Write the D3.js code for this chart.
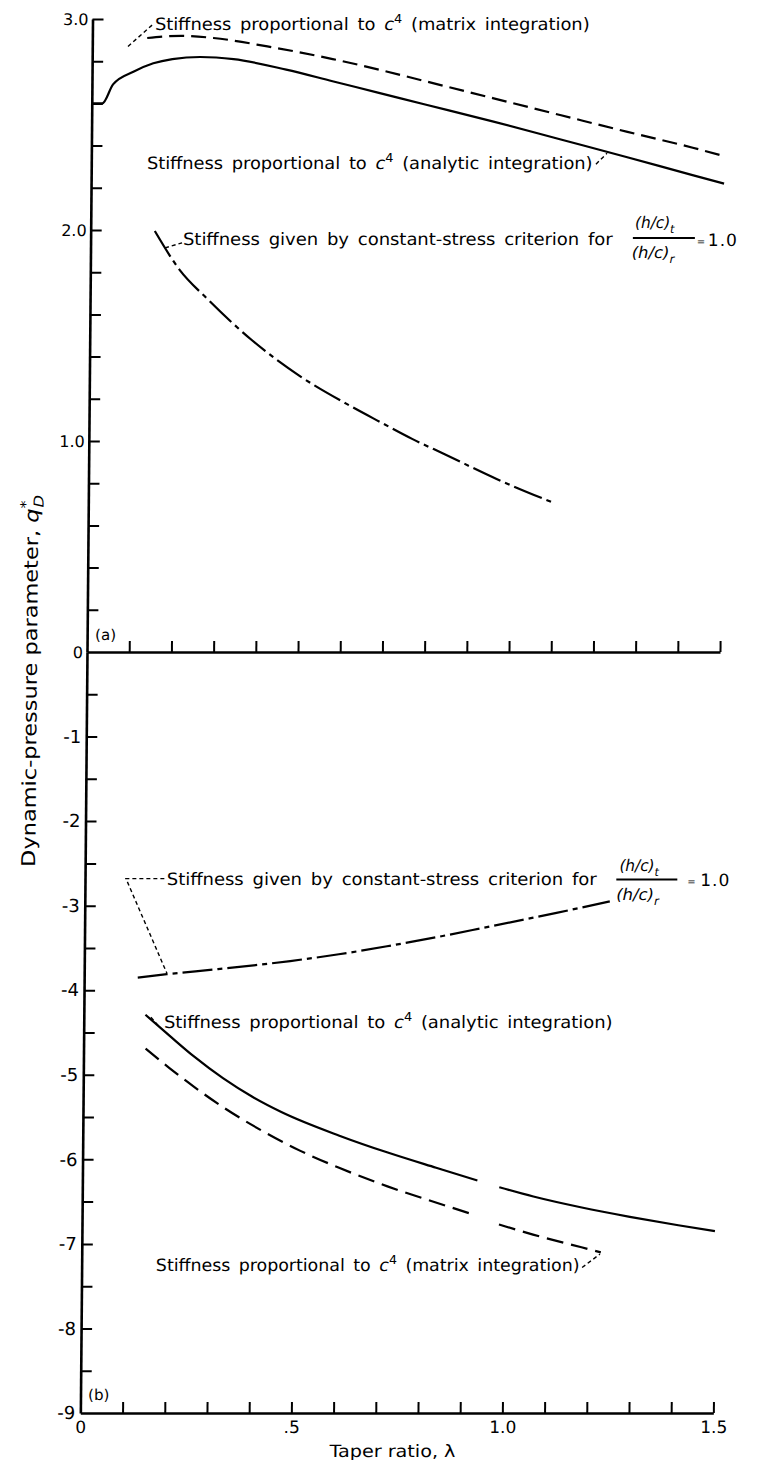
<!DOCTYPE html>
<html><head><meta charset="utf-8">
<script src="https://cdn.jsdelivr.net/npm/d3@7"></script>
<style>
body{margin:0;background:#fff;}
svg{display:block;background:#fff;}
text{fill:#000;font-family:"DejaVu Sans",sans-serif;}
</style></head>
<body>
<svg id="c" width="758" height="1460"></svg>
<script>
// ---------------- DATA ----------------
// (a) upper panel
const topAnalyticLam = [0, 0.025, 0.05, 0.098, 0.145, 0.19, 0.256, 0.335, 0.46, 0.57, 0.68, 0.79, 0.95, 1.11, 1.27, 1.425, 1.50];
const topAnalyticVal = [2.60, 2.60, 2.69, 2.75, 2.79, 2.81, 2.82, 2.81, 2.76, 2.705, 2.65, 2.595, 2.515, 2.43, 2.345, 2.26, 2.22];
const topMatrixLam = [0.13, 0.21, 0.287, 0.415, 0.57, 0.68, 0.79, 0.95, 1.11, 1.27, 1.425, 1.50];
const topMatrixVal = [2.91, 2.92, 2.91, 2.87, 2.81, 2.76, 2.705, 2.625, 2.545, 2.465, 2.39, 2.35];
const topStressLam = [0.152, 0.212, 0.277, 0.386, 0.497, 0.62, 0.69, 0.766, 0.846, 0.967, 1.10];
const topStressVal = [1.995, 1.81, 1.675, 1.475, 1.31, 1.165, 1.09, 1.01, 0.935, 0.82, 0.709];
// (b) lower panel (NaN marks a break in the drawn line)
const botAnalyticLam = [0.146, 0.204, 0.261, 0.331, 0.401, 0.470, 0.608, 0.723, 0.838, 0.936, 0.96, 0.988, 1.069, 1.184, 1.298, 1.413, 1.50];
const botAnalyticVal = [-4.29, -4.54, -4.78, -5.04, -5.26, -5.44, -5.72, -5.92, -6.10, -6.25, NaN, -6.33, -6.44, -6.57, -6.68, -6.78, -6.85];
const botMatrixLam = [0.147, 0.204, 0.262, 0.331, 0.424, 0.516, 0.608, 0.723, 0.838, 0.919, 0.95, 0.988, 1.069, 1.184, 1.23];
const botMatrixVal = [-4.69, -4.92, -5.14, -5.38, -5.66, -5.90, -6.10, -6.32, -6.51, -6.64, NaN, -6.77, -6.89, -7.04, -7.10];
const botStressLam = [0.127, 0.196, 0.317, 0.488, 0.603, 0.717, 0.832, 0.947, 1.06, 1.118, 1.244];
const botStressVal = [-3.85, -3.81, -3.75, -3.655, -3.575, -3.48, -3.375, -3.26, -3.145, -3.085, -2.95];

// tick labels
const xLabelVals = [0, 0.5, 1.0, 1.5];
const xLabels = ["0", ".5", "1.0", "1.5"];
const topYLabelVals = [0, 1, 2, 3];
const topYLabels = ["0", "1.0", "2.0", "3.0"];
const botYLabelVals = [-1, -2, -3, -4, -5, -6, -7, -8, -9];
const botYLabels = ["-1", "-2", "-3", "-4", "-5", "-6", "-7", "-8", "-9"];

// annotation texts and anchors (data units: taper ratio, parameter value)
const labelTexts = [
  "Stiffness proportional to |c|4| (matrix integration)",
  "Stiffness proportional to |c|4| (analytic integration)",
  "Stiffness given by constant-stress criterion for",
  "Stiffness given by constant-stress criterion for",
  "Stiffness proportional to |c|4| (analytic integration)",
  "Stiffness proportional to |c|4| (matrix integration)"
];
const labelPanel = ["a", "a", "a", "b", "b", "b"];
const labelLam = [0.148, 0.132, 0.219, 0.194, 0.190, 0.176];
const labelVal = [2.946, 2.288, 1.929, -2.75, -4.45, -7.32];
const leaderPanel = ["a", "a", "a", "b", "b", "b"];
const leaderLam = [[0.0846, 0.1457], [1.196, 1.222], [0.1765, 0.2168], [0.188, 0.097, 0.196], [0.159, 0.180], [1.186, 1.228]];
const leaderVal = [[2.870, 2.979], [2.312, 2.364], [1.915, 1.939], [-2.68, -2.68, -3.80], [-4.32, -4.44], [-7.28, -7.12]];
const fracPanel = ["a", "b"];
const fracLam = [1.285, 1.259];
const fracVal = [1.962, -2.69];
const panelTags = ["(a)", "(b)"];
const panelTagLam = [0.019, 0.018];
const panelTagVal = [0.057, -8.85];

// ---------------- LAYOUT ----------------
const svg = d3.select("#c");
const Y0 = 652;
const root = svg.append("g")
  .attr("transform", `translate(0,${Y0}) skewX(-0.5) translate(0,${-Y0})`);

const x = d3.scaleLinear().domain([0, 1.5]).range([87, 720]);
const yTop = d3.scaleLinear().domain([0, 3]).range([652, 19]);
const yBot = d3.scaleLinear().domain([-9, 0]).range([1413, 652]);
const yOf = p => p === "a" ? yTop : yBot;

// ---------------- AXES ----------------
function styleAxis(g, dw, tw) {
  g.select(".domain").attr("stroke", "#000").attr("stroke-width", dw);
  g.selectAll(".tick line").attr("stroke", "#000").attr("stroke-width", tw);
}
root.append("g").attr("transform", `translate(${x(0)},0)`)
  .call(d3.axisRight(yTop).tickValues(d3.range(1, 16).map(i => i * 0.2)).tickSize(11).tickSizeOuter(0).tickFormat(""))
  .call(g => styleAxis(g, 2.6, 2));
root.append("g").attr("transform", `translate(${x(0)},0)`)
  .call(d3.axisRight(yBot).tickValues(d3.range(1, 18).map(i => -i * 0.5)).tickSize(11).tickSizeOuter(0).tickFormat(""))
  .call(g => styleAxis(g, 2.6, 2));
[yTop(0), yBot(-9)].forEach(yy => {
  root.append("g").attr("transform", `translate(0,${yy})`)
    .call(d3.axisTop(x).tickValues(d3.range(1, 16).map(i => i / 10)).tickSize(11).tickSizeOuter(0).tickFormat(""))
    .call(g => styleAxis(g, 2.6, 2));
});
function labelAxis(g, fs) {
  g.select(".domain").remove();
  g.selectAll(".tick line").remove();
  g.selectAll("text").attr("font-size", fs).attr("font-family", "DejaVu Sans, sans-serif").attr("fill", "#000");
}
root.append("g").attr("transform", `translate(${x(0)},0)`)
  .call(d3.axisLeft(yTop).tickValues(topYLabelVals).tickFormat((d, i) => topYLabels[i]).tickSize(0).tickPadding(4))
  .call(g => labelAxis(g, 16));
root.append("g").attr("transform", `translate(${x(0)},0)`)
  .call(d3.axisLeft(yBot).tickValues(botYLabelVals).tickFormat((d, i) => botYLabels[i]).tickSize(0).tickPadding(5))
  .call(g => labelAxis(g, 18));
root.append("g").attr("transform", `translate(0,${yBot(-9)})`)
  .call(d3.axisBottom(x).tickValues(xLabelVals).tickFormat((d, i) => xLabels[i]).tickSize(0).tickPadding(8))
  .call(g => labelAxis(g, 17));

// ---------------- CURVES ----------------
function curve(lam, val, ys, dash, sw) {
  const pts = lam.map((l, i) => [l, val[i]]);
  root.append("path").datum(pts)
    .attr("fill", "none").attr("stroke", "#000").attr("stroke-width", sw)
    .attr("stroke-dasharray", dash)
    .attr("d", d3.line().defined(d => !isNaN(d[1])).x(d => x(d[0])).y(d => ys(d[1])).curve(d3.curveMonotoneX));
}
curve(topAnalyticLam, topAnalyticVal, yTop, null, 2.2);
curve(topMatrixLam, topMatrixVal, yTop, "15,7", 2.2);
curve(topStressLam, topStressVal, yTop, "30,5,5,5", 2.2);
curve(botAnalyticLam, botAnalyticVal, yBot, null, 2.2);
curve(botMatrixLam, botMatrixVal, yBot, "17,8", 2.2);
curve(botStressLam, botStressVal, yBot, "30,5,5,5", 2.2);

leaderLam.forEach((ls, k) => {
  const ys = yOf(leaderPanel[k]);
  root.append("path").datum(ls.map((l, i) => [l, leaderVal[k][i]]))
    .attr("fill", "none").attr("stroke", "#000").attr("stroke-width", 1.4)
    .attr("stroke-dasharray", "4,3")
    .attr("d", d3.line().x(d => x(d[0])).y(d => ys(d[1])));
});

// ---------------- TEXT ----------------
function rich(g, parts, fs) {
  const t = g.append("text").attr("font-size", fs);
  let shift = 0;
  parts.forEach(p => {
    const s = t.append("tspan").text(p.t);
    let target = 0;
    if (p.sup) { target = -0.42 * fs; s.attr("font-size", fs * 0.72); }
    if (p.sub) { target = 0.28 * fs; s.attr("font-size", fs * 0.72); }
    if (target - shift !== 0) s.attr("dy", target - shift);
    shift = target;
    if (p.it) s.attr("font-style", "italic");
    if (p.dx) s.attr("dx", p.dx);
  });
  return t;
}
function fitW(t, w) {
  const bw = t.node().getBBox().width;
  if (bw > 0) t.attr("transform", `scale(${w / bw},1)`);
}
function parseParts(str) {
  const seg = str.split("|");
  return [{ t: seg[0] }, { t: seg[1], it: true }, { t: seg[2], sup: true }, { t: " " + seg[3].trimStart() }];
}
const labelWidths = [435, 446, 430, 430, 449, 424];
labelTexts.forEach((s, k) => {
  const ys = yOf(labelPanel[k]);
  const g = root.append("g").attr("transform", `translate(${x(labelLam[k])},${ys(labelVal[k])})`);
  const parts = s.includes("|") ? parseParts(s) : [{ t: s }];
  const t = rich(g, parts, 17);
  t.attr("word-spacing", 3);
  fitW(t, labelWidths[k]);
});

// fractions  (h/c)_t / (h/c)_r = 1.0
const fracLayout = [
  { bw: 62, nx: 2, ny: -10, dx: -1, dyy: 20, ex: 64, ey: 8, ox: 75 },
  { bw: 61, nx: 3, ny: -8, dx: 0, dyy: 21, ex: 71, ey: 7, ox: 84 }
];
fracLam.forEach((l, k) => {
  const ys = yOf(fracPanel[k]);
  const L = fracLayout[k];
  const g = root.append("g").attr("transform", `translate(${x(l)},${ys(fracVal[k])})`);
  g.append("line").attr("x1", 0).attr("x2", L.bw).attr("y1", 0).attr("y2", 0)
    .attr("stroke", "#000").attr("stroke-width", 2);
  const n = rich(g.append("g").attr("transform", `translate(${L.nx},${L.ny})`),
    [{ t: "(h/c)", it: true }, { t: "t", sub: true, it: true }], 16);
  fitW(n, 40);
  const d = rich(g.append("g").attr("transform", `translate(${L.dx},${L.dyy})`),
    [{ t: "(h/c)", it: true }, { t: "r", sub: true, it: true }], 16);
  fitW(d, 44);
  g.append("text").attr("x", L.ex).attr("y", L.ey - 1).attr("font-size", 10).text("=");
  g.append("text").attr("x", L.ox).attr("y", L.ey).attr("font-size", 17).attr("letter-spacing", 1).text("1.0");
});

// panel tags
panelTags.forEach((s, k) => {
  const ys = k === 0 ? yTop : yBot;
  root.append("text").attr("x", x(panelTagLam[k])).attr("y", ys(panelTagVal[k]))
    .attr("font-size", 15).text(s);
});

// axis titles
{
  const g = root.append("g").attr("transform", `translate(${(x.range()[0] + x.range()[1]) / 2 - 4},${yBot(-9) + 44})`);
  const t = rich(g, [{ t: "Taper ratio, λ" }], 17).attr("text-anchor", "middle");
  fitW(t, 127);
}
{
  const g = root.append("g").attr("transform", `translate(37,681) rotate(-90)`);
  const t = rich(g, [
    { t: "Dynamic-pressure parameter, " }, { t: "q", it: true },
    { t: "*", sup: true }, { t: "D", sub: true, it: true, dx: -6 }], 19).attr("text-anchor", "middle");
  fitW(t, 372);
}
</script>
</body></html>
